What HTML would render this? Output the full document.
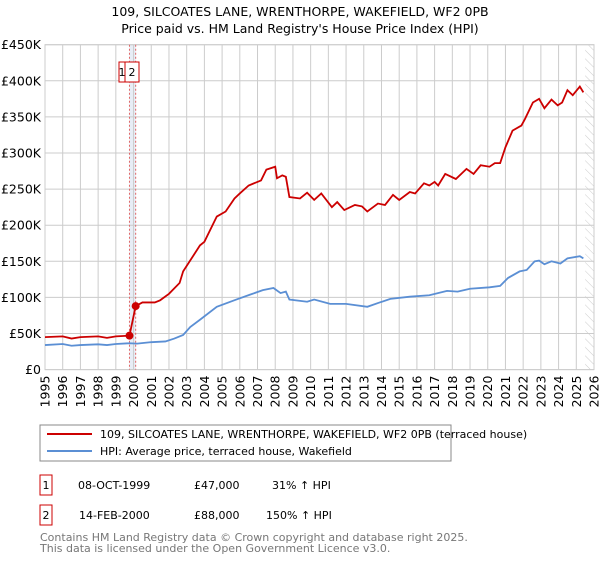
<!DOCTYPE html>
<html><head><meta charset="utf-8"><style>
body{margin:0;background:#fff;font-family:"Liberation Sans","DejaVu Sans",sans-serif;}
svg text{font-family:"DejaVu Sans","Liberation Sans",sans-serif;}
</style></head><body>
<svg id="c" width="600" height="560" xmlns="http://www.w3.org/2000/svg">
<text x="300" y="16" text-anchor="middle" font-size="12.5">109, SILCOATES LANE, WRENTHORPE, WAKEFIELD, WF2 0PB</text>
<text x="300" y="33" text-anchor="middle" font-size="12.5">Price paid vs. HM Land Registry's House Price Index (HPI)</text>
<g id="grid"></g><g id="marks"></g><g id="axes"></g>
<rect x="40" y="425" width="411" height="36" fill="#fff" stroke="#888"/>
<line x1="47" y1="434" x2="92" y2="434" stroke="#cc0000" stroke-width="2"/>
<text x="100" y="438" font-size="11">109, SILCOATES LANE, WRENTHORPE, WAKEFIELD, WF2 0PB (terraced house)</text>
<line x1="47" y1="451" x2="92" y2="451" stroke="#5b8fd4" stroke-width="2"/>
<text x="100" y="455" font-size="11">HPI: Average price, terraced house, Wakefield</text>
<g font-size="11">
<rect x="40" y="475" width="12" height="20" fill="none" stroke="#cc0000"/>
<text x="46" y="489" text-anchor="middle">1</text>
<text x="78" y="489">08-OCT-1999</text>
<text x="194" y="489">£47,000</text>
<text x="272" y="489">31% ↑ HPI</text>
<rect x="40" y="505" width="12" height="20" fill="none" stroke="#cc0000"/>
<text x="46" y="519" text-anchor="middle">2</text>
<text x="79" y="519">14-FEB-2000</text>
<text x="194" y="519">£88,000</text>
<text x="266" y="519">150% ↑ HPI</text>
</g>
<text x="40" y="541" font-size="11" fill="#777">Contains HM Land Registry data © Crown copyright and database right 2025.</text>
<text x="40" y="552" font-size="11" fill="#777">This data is licensed under the Open Government Licence v3.0.</text>
</svg>
<script>
const yTicks=[0,50,100,150,200,250,300,350,400,450];
const yTickLabels=["£0","£50K","£100K","£150K","£200K","£250K","£300K","£350K","£400K","£450K"];
const years=[1995,1996,1997,1998,1999,2000,2001,2002,2003,2004,2005,2006,2007,2008,2009,2010,2011,2012,2013,2014,2015,2016,2017,2018,2019,2020,2021,2022,2023,2024,2025,2026];
const redT=[1995,1996,1996.5,1997,1998,1998.5,1999,1999.77,2000.12,2000.5,2001.2,2001.5,2002,2002.6,2002.8,2003.75,2004,2004.7,2005.2,2005.7,2006,2006.5,2007.2,2007.5,2008,2008.1,2008.4,2008.6,2008.8,2009.4,2009.8,2010.2,2010.6,2011.2,2011.5,2011.9,2012.5,2012.9,2013.2,2013.8,2014.2,2014.65,2015,2015.6,2015.9,2016.4,2016.7,2017,2017.2,2017.6,2018.2,2018.8,2019.2,2019.6,2020.1,2020.4,2020.7,2021,2021.4,2021.9,2022.1,2022.55,2022.9,2023.2,2023.6,2023.95,2024.2,2024.5,2024.8,2025.2,2025.4];
const redV=[45,46,43,45,46,44,46,47,88,93,93,96,105,120,136,172,177,212,219,237,244,255,262,277,281,265,269,267,239,237,245,235,244,225,232,221,228,226,219,230,228,242,235,246,244,258,255,260,255,271,264,278,271,283,281,286,286,308,331,338,347,370,375,362,374,366,370,387,380,392,384];
const blueT=[1995,1996,1996.5,1997,1998,1998.5,1999,1999.77,2000.2,2001,2001.8,2002.3,2002.8,2003.2,2003.75,2004.7,2005.8,2006.6,2007.3,2007.9,2008.3,2008.6,2008.8,2009.8,2010.2,2011.1,2012,2013.2,2013.9,2014.5,2015.6,2016.7,2017.7,2018.3,2019,2020.1,2020.7,2021.15,2021.8,2022.2,2022.65,2022.9,2023.2,2023.6,2024.1,2024.5,2025.2,2025.4];
const blueV=[34,35.5,33,34,35,34,35.5,36.5,36,38,39,43,48,59,69,87,97,104,110,113,106,108,97,94,97,91,91,87,93,98,101,103,109,108,112,114,116,127,136,138,150,151,146,150,147,154,157,154];
const saleT=[1999.77,2000.12];
const saleV=[47,88];
const L=45,R=594,T=44.7,B=369.6;
const X=y=>L+(y-1995)*(R-L)/31;
const Y=v=>B-v*(B-T)/450;
const NS="http://www.w3.org/2000/svg";
function mk(tag,attrs,parent){const e=document.createElementNS(NS,tag);for(const k in attrs)e.setAttribute(k,attrs[k]);parent.appendChild(e);return e;}
const g=document.getElementById('grid'),m=document.getElementById('marks'),a=document.getElementById('axes');
const defs=mk('defs',{},g);
const p=mk('pattern',{id:'h',width:6,height:6,patternUnits:'userSpaceOnUse',patternTransform:'rotate(-45)'},defs);
mk('line',{x1:0,y1:0,x2:0,y2:6,stroke:'#ccc','stroke-width':1},p);
const hatch=mk('rect',{x:X(2025.5),y:T,width:R-X(2025.5),height:B-T,fill:'url(#h)'},g);


const band=mk('rect',{x:X(saleT[0]),y:T,width:X(saleT[1])-X(saleT[0]),height:B-T,fill:'#dde6f2',opacity:0.7},g);


yTicks.forEach((v,i)=>{
 const l=mk('line',{x1:L,x2:R,y1:Y(v),y2:Y(v),stroke:'#cccccc'},g);
 
 
 const t=mk('text',{x:L-4,y:Y(v)+4.5,'text-anchor':'end','font-size':12.5},a);
 t.textContent=yTickLabels[i];
 
 
});
years.forEach(yr=>{
 const l=mk('line',{x1:X(yr),x2:X(yr),y1:T,y2:B,stroke:'#cccccc'},g);
 
 
 const t=mk('text',{x:0,y:0,'text-anchor':'end','font-size':12.5,transform:`translate(${X(yr)+4.5},${B+6}) rotate(-90)`},a);
 t.textContent=yr;
 
 
});
const fr=mk('rect',{x:L,y:T,width:R-L,height:B-T,fill:'none',stroke:'#cccccc'},g);


saleT.forEach((t,i)=>{
 const l=mk('line',{x1:X(t),x2:X(t),y1:T,y2:B,stroke:'#e06666','stroke-dasharray':'2,2'},m);
 
 
});
const bl=mk('polyline',{points:blueT.map((t,i)=>X(t)+','+Y(blueV[i])).join(' '),fill:'none',stroke:'#5b8fd4','stroke-width':1.8},m);


const rl=mk('polyline',{points:redT.map((t,i)=>X(t)+','+Y(redV[i])).join(' '),fill:'none',stroke:'#cc0000','stroke-width':1.8},m);


saleT.forEach((t,i)=>{
 const c=mk('circle',{cx:X(t),cy:Y(saleV[i]),r:4,fill:'#cc0000'},m);
 
 
});
[[119,125,'1'],[125,139,'2']].forEach(b=>{
 const r=mk('rect',{x:b[0],y:62,width:b[1]-b[0],height:20,fill:'#fff',stroke:'#cc0000'},m);
 
 
 const t=mk('text',{x:(b[0]+b[1])/2,y:76,'text-anchor':'middle','font-size':11},m);
 t.textContent=b[2];
 
 
});
</script>
</body></html>
